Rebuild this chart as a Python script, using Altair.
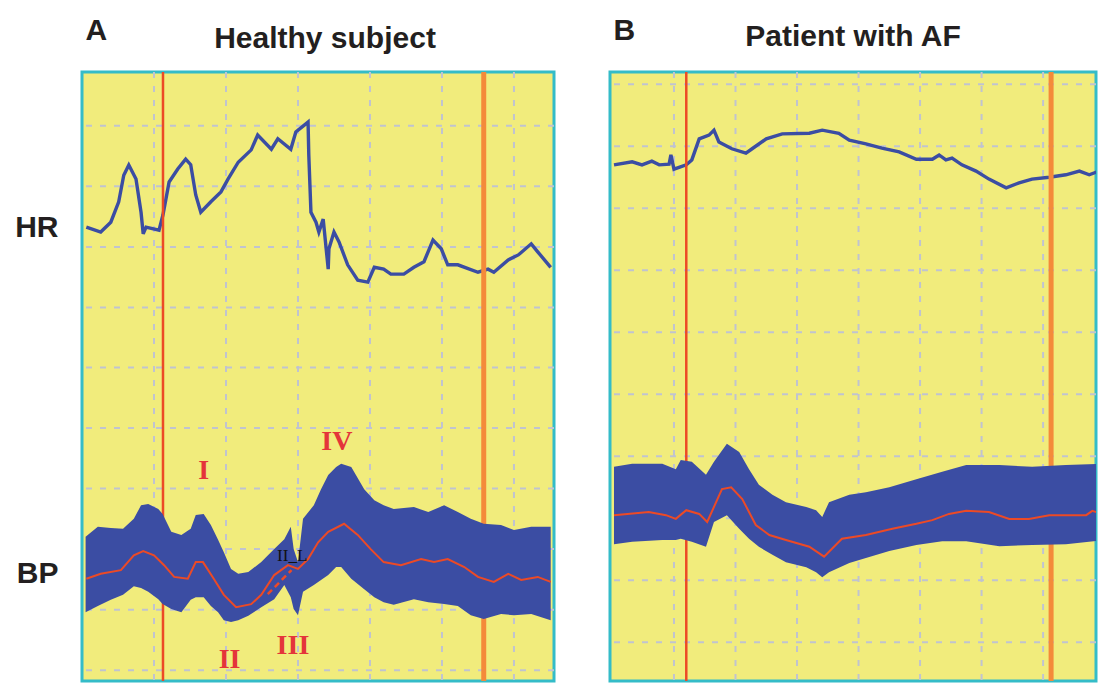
import altair as alt
import pandas as pd

# ---------------- Panel A: healthy subject ----------------
# time (s) and signal level (arbitrary units, 0-100 panel scale)
A_HR_T = [0.6, 2.6, 4.0, 5.1, 5.8, 6.5, 7.5, 8.2, 8.5, 8.9, 10.7, 11.25, 12.1, 13.3, 14.4,
          15.1, 15.8, 16.5, 17.9, 19.3, 20.3, 21.7, 23.5, 24.4, 26.3, 27.2, 29.0, 29.7, 31.4,
          31.5, 31.8, 32.5, 32.9, 33.5, 34.2, 34.3, 35.0, 35.7, 36.9, 38.3, 39.7, 40.6, 41.9,
          42.9, 44.7, 46.1, 47.5, 48.75, 49.9, 50.8, 52.2, 55.0, 56.4, 57.2, 59.2, 60.6, 62.4,
          63.3, 65.1]
A_HR_V = [74.9, 74.1, 75.7, 79.0, 83.3, 84.95, 82.7, 77.3, 73.8, 74.9, 74.4, 76.9, 82.2, 84.3,
          85.9, 85.0, 80.1, 77.3, 79.0, 80.6, 82.7, 85.4, 87.4, 89.8, 87.5, 89.2, 87.5, 90.3,
          91.9, 86.6, 77.3, 75.7, 74.1, 76.2, 68.1, 71.4, 74.1, 72.5, 68.8, 66.3, 66.0, 68.4,
          68.1, 67.3, 67.3, 68.4, 69.3, 72.8, 71.4, 68.8, 68.8, 67.6, 68.1, 67.6, 69.6, 70.4,
          72.2, 70.9, 68.4]

A_BP_T = [0.5, 2.2, 4.0, 5.7, 7.2, 8.2, 9.2, 10.6, 11.2, 12.4, 13.8, 15.1, 15.8, 16.9, 17.9,
          18.9, 19.7, 20.7, 21.7, 23.1, 24.9, 26.7, 28.1, 29.0, 29.4, 30.0, 30.7, 32.2, 33.2,
          34.2, 35.3, 36.0, 37.4, 39.2, 40.6, 41.9, 43.3, 46.1, 48.1, 50.3, 52.2, 54.0, 55.8,
          58.2, 60.0, 62.4, 65.1]
A_BP_HI = [24.8, 26.4, 26.2, 26.1, 27.7, 29.9, 30.1, 29.3, 28.5, 25.6, 25.1, 26.1, 28.3, 28.5,
           26.7, 24.3, 22.3, 19.6, 18.8, 19.1, 20.7, 22.8, 24.4, 26.4, 22.8, 20.7, 27.7, 29.9,
           32.5, 34.8, 36.1, 36.6, 36.1, 32.5, 30.7, 29.9, 29.3, 29.6, 28.8, 29.9, 28.8, 27.7,
           26.9, 26.7, 25.9, 26.4, 26.4]
A_BP_LO = [12.6, 13.6, 14.6, 15.4, 16.8, 16.5, 15.9, 14.7, 13.9, 13.1, 12.6, 14.6, 15.0, 15.0,
           13.6, 12.6, 11.3, 11.0, 11.3, 12.0, 13.4, 14.7, 17.0, 15.0, 13.1, 12.1, 15.9, 17.0,
           17.8, 18.6, 19.9, 19.9, 18.0, 16.3, 15.0, 14.2, 13.8, 14.7, 14.2, 13.9, 13.6, 12.1,
           11.5, 12.3, 12.1, 12.3, 11.3]

A_MEAN_T = [0.6, 2.6, 5.4, 7.2, 8.5, 10.0, 11.4, 12.8, 14.7, 15.8, 16.8, 18.3, 19.7, 21.4, 23.5,
            24.9, 26.7, 28.6, 30.0, 31.4, 32.8, 34.2, 36.4, 38.3, 40.1, 41.9, 44.3, 47.1, 48.9,
            50.8, 53.1, 55.0, 57.2, 59.2, 61.0, 63.3, 65.1]
A_MEAN_V = [18.0, 18.8, 19.4, 21.8, 22.5, 21.8, 20.2, 18.3, 18.0, 20.7, 20.7, 18.0, 15.4, 13.4,
            13.9, 15.4, 18.6, 20.2, 19.6, 21.2, 23.9, 25.6, 26.9, 25.1, 22.8, 20.7, 20.2, 21.2,
            20.7, 21.2, 19.9, 18.3, 17.5, 18.8, 17.8, 18.3, 17.5]

A_GRID_T = [10, 20, 30, 40, 50, 60]
A_GRID_V = [3.2, 13.0, 22.8, 32.6, 42.4, 52.2, 61.9, 71.7, 81.5, 91.3]
A_EVENT_START = [11.25]
A_EVENT_END = [55.8]
A_X_DOMAIN = [0, 65.56]
A_Y_DOMAIN = [1.46, 100]

A_PHASE_LABEL = ["I", "II", "III", "IV"]
A_PHASE_T = [16.9, 20.5, 29.3, 35.4]
A_PHASE_V = [35.4, 4.9, 7.2, 40.1]
A_NOTE_LABEL = ["II_L"]
A_NOTE_T = [29.2]
A_NOTE_V = [21.7]
A_NOTE_SEG_T = [25.8, 29.1]
A_NOTE_SEG_V = [15.5, 19.4]

ROW_LABEL_POS = [74.8, 18.8]   # HR row, BP row

# ---------------- Panel B: patient with AF ----------------
B_HR_T = [0.25, 3.2, 4.8, 6.4, 7.6, 9.2, 9.5, 10.0, 12.0, 12.9, 14.1, 15.7, 16.5, 17.3, 19.4,
          21.7, 22.7, 25.0, 27.6, 32.0, 34.1, 36.8, 38.5, 41.2, 43.8, 46.6, 49.4, 52.0, 53.1,
          54.2, 55.2, 56.8, 59.1, 61.2, 64.0, 66.1, 68.2, 71.0, 73.7, 75.9, 77.5, 79.1, 80.2]
B_HR_V = [84.7, 85.2, 84.7, 85.3, 84.7, 84.8, 86.3, 84.0, 84.7, 85.5, 88.9, 89.5, 90.3, 88.4,
          87.3, 86.6, 87.3, 88.9, 89.7, 89.8, 90.3, 89.8, 88.7, 88.1, 87.4, 86.8, 85.6, 85.6,
          86.3, 85.5, 85.8, 84.7, 83.7, 82.4, 81.0, 81.8, 82.4, 82.7, 83.1, 83.7, 83.1, 83.7,
          83.7]

B_BP_T = [0.25, 3.2, 8.1, 10.3, 11.1, 12.9, 15.2, 16.5, 18.6, 20.6, 22.2, 23.8, 26.0, 28.2,
          31.5, 33.1, 34.1, 35.2, 38.5, 41.2, 45.0, 49.4, 53.6, 57.5, 62.9, 68.2, 73.7, 80.1]
B_BP_HI = [36.0, 36.5, 36.5, 35.6, 37.1, 36.8, 34.7, 36.8, 39.7, 38.4, 35.6, 33.1, 31.5, 30.3,
           29.5, 29.0, 27.9, 30.3, 31.5, 31.9, 32.7, 34.0, 35.2, 36.3, 36.3, 36.0, 36.3, 36.5]
B_BP_LO = [23.5, 23.9, 24.2, 24.2, 24.4, 23.9, 23.1, 27.1, 28.2, 26.0, 24.4, 23.1, 21.8, 20.6,
           19.8, 19.0, 18.2, 19.0, 20.5, 21.3, 22.4, 23.4, 24.0, 24.0, 23.2, 23.4, 23.5, 24.2]

B_MEAN_T = [0.25, 5.9, 8.7, 10.3, 12.0, 14.1, 15.4, 17.8, 19.3, 21.1, 23.3, 25.5, 28.2, 32.0,
            34.4, 37.3, 41.2, 45.5, 49.4, 52.0, 54.7, 57.5, 61.2, 64.5, 67.7, 71.0, 77.0, 78.0,
            80.2]
B_MEAN_V = [28.2, 28.7, 28.2, 27.6, 29.0, 28.4, 27.1, 32.4, 32.7, 30.8, 26.6, 25.0, 24.2, 23.1,
            21.5, 24.4, 25.0, 26.0, 26.8, 27.4, 28.4, 28.9, 28.7, 27.6, 27.6, 28.2, 28.2, 28.9,
            28.2]

B_GRID_T = [10, 20, 30, 40, 50, 60, 70, 80]
B_GRID_V = [7.7, 17.7, 27.7, 37.7, 47.7, 57.7, 67.7, 77.7, 87.7, 97.7]
B_EVENT_START = [12.0]
B_EVENT_END = [71.3]
B_X_DOMAIN = [-0.4, 78.6]
B_Y_DOMAIN = [1.45, 99.68]

# ---------------- styling ----------------
SANS = "Liberation Sans"
SERIF = "Liberation Serif"
BG = "#f1ec7c"
FRAME = "#34bcc8"
GRIDC = "#c0c3d0"
BLUE = "#3b4da3"
RED = "#ec4a26"
ORANGE = "#f48a3a"
ROMAN = "#e4353a"
INK = "#231f20"


def panel(hr_t, hr_v, bp_t, bp_hi, bp_lo, mn_t, mn_v, grid_t, grid_v, ev1, ev2,
          x_dom, y_dom, width, height, letter, letter_y, title, title_y, rows, extra=None):
    xs = alt.Scale(domain=x_dom, nice=False, zero=False)
    ys = alt.Scale(domain=y_dom, nice=False, zero=False)
    xaxis = alt.Axis(orient="top", labels=False, ticks=False, domain=False, grid=False,
                     title=title, titleFont=SANS, titleFontSize=30, titleFontWeight="bold",
                     titleColor=INK, titleX=242.5, titleY=title_y, titleAlign="center",
                     titleBaseline="alphabetic", titleAngle=0)
    yopts = dict(ticks=False, domain=False, grid=False, title=letter, titleFont=SANS,
                 titleFontSize=30, titleFontWeight="bold", titleColor=INK, titleX=3,
                 titleY=letter_y, titleAlign="left", titleBaseline="alphabetic", titleAngle=0)
    if rows:
        yaxis = alt.Axis(values=ROW_LABEL_POS,
                         labelExpr="datum.value > 50 ? 'HR' : 'BP'",
                         labelFont=SANS, labelFontSize=30, labelFontWeight="bold",
                         labelColor=INK, labelPadding=24, **yopts)
    else:
        yaxis = alt.Axis(labels=False, minExtent=0, maxExtent=0, **yopts)

    def X(f):
        return alt.X(f, type="quantitative", scale=xs, axis=xaxis)

    def Y(f):
        return alt.Y(f, type="quantitative", scale=ys, axis=yaxis)

    gx = alt.Chart(pd.DataFrame({"t": grid_t})).mark_rule(
        color=GRIDC, strokeWidth=2, strokeDash=[6, 8], clip=True).encode(x=X("t"))
    gy = alt.Chart(pd.DataFrame({"v": grid_v})).mark_rule(
        color=GRIDC, strokeWidth=2, strokeDash=[6, 8], clip=True).encode(y=Y("v"))
    hr = alt.Chart(pd.DataFrame({"t": hr_t, "v": hr_v})).mark_line(
        color=BLUE, strokeWidth=3.4, clip=True).encode(x=X("t"), y=Y("v"))
    e1 = alt.Chart(pd.DataFrame({"t": ev1})).mark_rule(
        color=RED, strokeWidth=2.5).encode(x=X("t"))
    e2 = alt.Chart(pd.DataFrame({"t": ev2})).mark_rule(
        color=ORANGE, strokeWidth=5).encode(x=X("t"))
    band = alt.Chart(pd.DataFrame({"t": bp_t, "hi": bp_hi, "lo": bp_lo})).mark_area(
        color=BLUE, opacity=1, clip=True).encode(x=X("t"), y=Y("hi"), y2=alt.Y2("lo"))
    mean = alt.Chart(pd.DataFrame({"t": mn_t, "v": mn_v})).mark_line(
        color=RED, strokeWidth=2, clip=True).encode(x=X("t"), y=Y("v"))
    layers = [gx, gy, hr, e1, e2, band, mean]
    if extra:
        layers += extra(X, Y)
    return alt.layer(*layers).properties(width=width, height=height)


def a_extra(X, Y):
    seg = alt.Chart(pd.DataFrame({"t": A_NOTE_SEG_T, "v": A_NOTE_SEG_V})).mark_line(
        color=RED, strokeWidth=2.5, strokeDash=[6, 4]).encode(x=X("t"), y=Y("v"))
    note = alt.Chart(pd.DataFrame({"t": A_NOTE_T, "v": A_NOTE_V, "s": A_NOTE_LABEL})).mark_text(
        font=SERIF, fontSize=17, color="#111111", baseline="middle", align="center").encode(
        x=X("t"), y=Y("v"), text="s:N")
    phases = alt.Chart(pd.DataFrame({"t": A_PHASE_T, "v": A_PHASE_V, "s": A_PHASE_LABEL})).mark_text(
        font=SERIF, fontSize=28, fontWeight="bold", color=ROMAN, baseline="middle",
        align="center").encode(x=X("t"), y=Y("v"), text="s:N")
    return [seg, note, phases]


panel_a = panel(A_HR_T, A_HR_V, A_BP_T, A_BP_HI, A_BP_LO, A_MEAN_T, A_MEAN_V,
                A_GRID_T, A_GRID_V, A_EVENT_START, A_EVENT_END, A_X_DOMAIN, A_Y_DOMAIN,
                472, 609, "A", -33, "Healthy subject", -25, True, a_extra)
panel_b = panel(B_HR_T, B_HR_V, B_BP_T, B_BP_HI, B_BP_LO, B_MEAN_T, B_MEAN_V,
                B_GRID_T, B_GRID_V, B_EVENT_START, B_EVENT_END, B_X_DOMAIN, B_Y_DOMAIN,
                486, 609, "B", -33, "Patient with AF", -27, False)

chart = alt.hconcat(panel_a, panel_b, spacing=52).properties(
    padding={"left": 5, "top": 5, "right": 0, "bottom": 0}
).configure_view(
    fill=BG, stroke=FRAME, strokeWidth=3
)

chart.save("out.html", embed_options={"renderer": "svg", "actions": False})
